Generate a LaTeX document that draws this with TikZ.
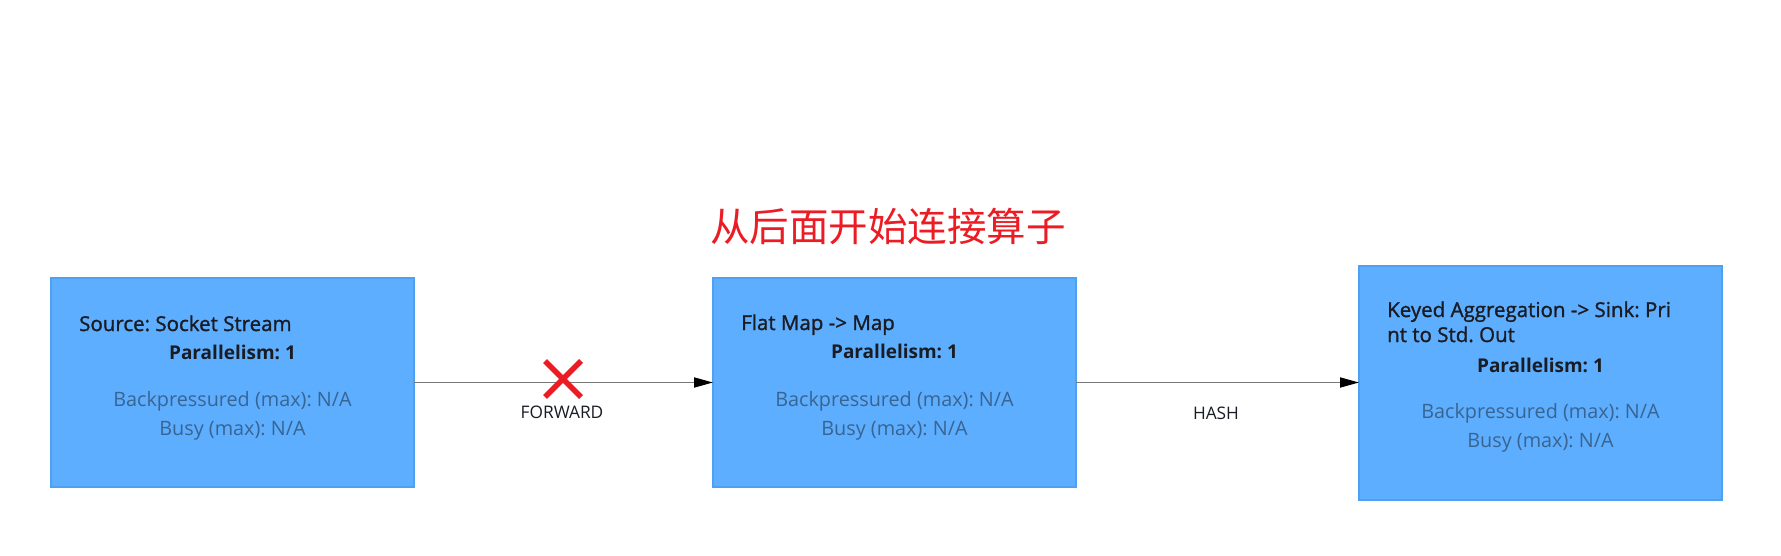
\documentclass[tikz,border=0pt]{standalone}
\usepackage{fontspec}
\setmainfont{Open Sans}
\newfontfamily\headfont{Open Sans}[FakeBold=1.3]
\newfontfamily\cjkfont{Noto Sans CJK SC}
\usetikzlibrary{arrows.meta}
\definecolor{boxfill}{RGB}{94,174,255}
\definecolor{boxline}{RGB}{78,160,242}
\definecolor{darktxt}{RGB}{26,28,36}
\definecolor{graytxt}{RGB}{56,100,146}
\definecolor{crossred}{RGB}{236,28,36}
\definecolor{linegray}{RGB}{120,120,120}
\tikzset{
  opbox/.style={draw=boxline, line width=1.2pt, fill=boxfill, inner sep=0pt, outer sep=0pt, anchor=north west},
  titletxt/.style={font=\fontsize{20.5}{22}\selectfont\headfont\frenchspacing, text=darktxt, inner sep=0pt, anchor=base west},
  partxt/.style={font=\fontsize{19}{22}\selectfont\bfseries\frenchspacing, text=darktxt, inner sep=0pt, anchor=base},
  stattxt/.style={font=\fontsize{19.8}{22}\selectfont\frenchspacing, text=graytxt, inner sep=0pt, anchor=base},
  conn/.style={draw=linegray, line width=1.8pt, -{Triangle[length=19pt,width=10pt,fill=black,color=black]}},
  edgelbl/.style={font=\fontsize{17.3}{19}\selectfont, text=darktxt, inner sep=0pt, anchor=base},
  crossline/.style={draw=crossred, line width=5.5pt}
}
\begin{document}
\begin{tikzpicture}[x=1pt,y=-1pt]
\useasboundingbox[fill=white] (0,0) rectangle (1781,556);
% boxes
\node[opbox, minimum width=363pt, minimum height=209pt] (b1) at (51,278) {};
\node[opbox, minimum width=363pt, minimum height=209pt] (b2) at (713,278) {};
\node[opbox, minimum width=363pt, minimum height=234pt] (b3) at (1359,266) {};
% box 1 texts
\node[titletxt] (t1) at (79,331) {Source: Socket Stream};
\node[partxt] (p1) at (232.5,359) {Parallelism: 1};
\node[stattxt] (s1a) at (232.5,406) {Backpressured (max): N/A};
\node[stattxt] (s1b) at (232.5,435) {Busy (max): N/A};
% box 2 texts
\node[titletxt] (t2) at (741,330) {Flat Map -> Map};
\node[partxt] (p2) at (894.5,358) {Parallelism: 1};
\node[stattxt] (s2a) at (894.5,406) {Backpressured (max): N/A};
\node[stattxt] (s2b) at (894.5,435) {Busy (max): N/A};
% box 3 texts
\node[titletxt] (t3a) at (1387,317) {Keyed Aggregation -> Sink: Pri};
\node[titletxt] (t3b) at (1387,342) {nt to Std. Out};
\node[partxt] (p3) at (1540.5,372) {Parallelism: 1};
\node[stattxt] (s3a) at (1540.5,418) {Backpressured (max): N/A};
\node[stattxt] (s3b) at (1540.5,447) {Busy (max): N/A};
% connectors
\draw[conn] (b1.east) -- (b2.west);
\draw[conn] (b2.east) -- (b3.west |- b2.east);
\node[edgelbl] (l1) at (562,418) {FORWARD};
\node[edgelbl] (l2) at (1216,419) {HASH};
% cross
\coordinate (c1) at (545,361);
\coordinate (c2) at (581,397);
\coordinate (c3) at (581,361);
\coordinate (c4) at (545,397);
\draw[crossline] (c1) -- (c2);
\draw[crossline] (c3) -- (c4);
% title
\node[font=\fontsize{39.5}{45}\selectfont\cjkfont, text=crossred, inner sep=0pt, anchor=base] (hd) at (888,242) {从后面开始连接算子};
\end{tikzpicture}
\end{document}
